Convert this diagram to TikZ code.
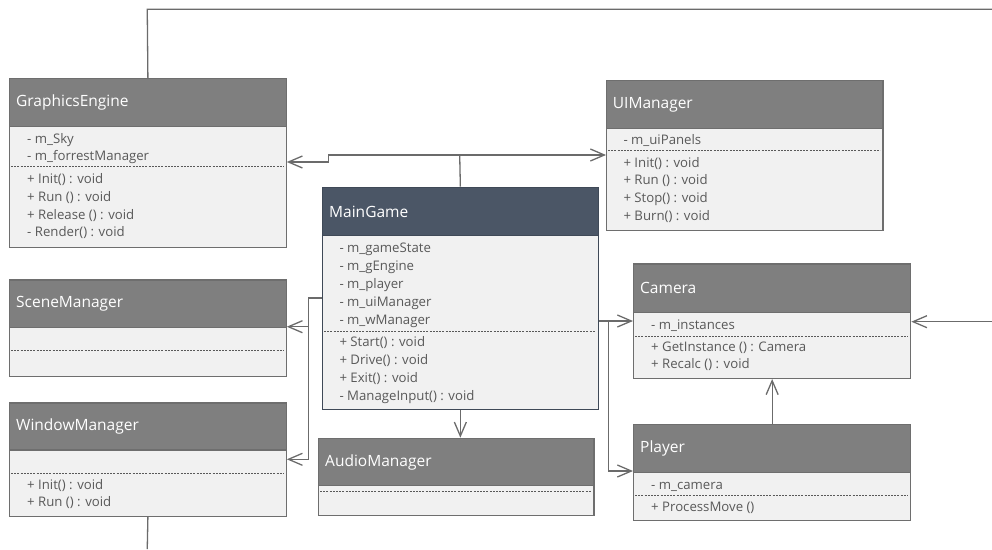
\documentclass[tikz,border=0pt]{standalone}
\usepackage{fontspec}
\setmainfont{Open Sans}
\usetikzlibrary{arrows.meta}
\definecolor{hdrgray}{HTML}{7F7F7F}
\definecolor{hdrline}{HTML}{6E6E6E}
\definecolor{mainhdr}{HTML}{4B5666}
\definecolor{mainline}{HTML}{3F4957}
\definecolor{bodyfill}{HTML}{F1F1F1}
\definecolor{txtgray}{HTML}{595959}
\definecolor{conncol}{HTML}{6B6B6B}
\tikzset{
  boxh/.style={draw=hdrline, fill=hdrgray, line width=1.3pt, anchor=north west, inner sep=0pt},
  boxb/.style={draw=hdrline, fill=bodyfill, line width=1.3pt, anchor=north west, inner sep=0pt},
  mboxh/.style={draw=mainline, fill=mainhdr, line width=1.3pt, anchor=north west, inner sep=0pt},
  mboxb/.style={draw=mainline, fill=bodyfill, line width=1.3pt, anchor=north west, inner sep=0pt},
  htext/.style={anchor=west, inner sep=0pt, text=white, font=\fontsize{15.5}{18}\selectfont},
  btext/.style={anchor=west, inner sep=0pt, text=txtgray, text height=10pt, text depth=2.9pt, font=\fontsize{13.2}{15}\selectfont},
  sep/.style={draw=txtgray, line width=0.8pt, dash pattern=on 2pt off 1.2pt},
  conn/.style={draw=conncol, line width=1.3pt},
  arr/.style={-{Straight Barb[length=14pt,width=12pt,line width=1.3pt]}}
}
\begin{document}
\begin{tikzpicture}[x=1pt,y=-1pt]
\useasboundingbox (0,0) rectangle (992,549);
% ---------- GraphicsEngine
\node[boxb, minimum width=276.5pt, minimum height=121pt] (geb) at (9,125.5) {};
\node[boxh, minimum width=276.5pt, minimum height=47.5pt] (geh) at (9,78) {};
\node[htext] (get) at ([xshift=7pt]geh.west) {GraphicsEngine};
\node[btext] (ge1) at (27,140) {- m\_Sky};
\node[btext] (ge2) at (27,157) {- m\_forrestManager};
\draw[sep] (11,166.5) -- (283.5,166.5);
\node[btext] (ge3) at (27,180) {+ Init() : void};
\node[btext] (ge4) at (27,198) {+ Run () : void};
\node[btext] (ge5) at (27,215.5) {+ Release () : void};
\node[btext] (ge6) at (27,233) {- Render() : void};
% ---------- SceneManager
\node[boxb, minimum width=276.5pt, minimum height=49pt] (smb) at (9,326.7) {};
\node[boxh, minimum width=276.5pt, minimum height=47.4pt] (smh) at (9,279.3) {};
\node[htext] (smt) at ([xshift=7pt]smh.west) {SceneManager};
\draw[sep] (11,350.7) -- (283.5,350.7);
% ---------- WindowManager
\node[boxb, minimum width=276.5pt, minimum height=66.4pt] (wmb) at (9,449.3) {};
\node[boxh, minimum width=276.5pt, minimum height=47pt] (wmh) at (9,402.3) {};
\node[htext] (wmt) at ([xshift=7pt]wmh.west) {WindowManager};
\draw[sep] (11,473.3) -- (283.5,473.3);
\node[btext] (wm1) at (27,486) {+ Init() : void};
\node[btext] (wm2) at (27,503.3) {+ Run () : void};
% ---------- MainGame
\node[mboxb, minimum width=276pt, minimum height=174pt] (mgb) at (321.7,235) {};
\node[mboxh, minimum width=276pt, minimum height=48.3pt] (mgh) at (321.7,186.7) {};
\node[htext] (mgt) at ([xshift=7.3pt]mgh.west) {MainGame};
\node[btext] (mg1) at (339.3,249) {- m\_gameState};
\node[btext] (mg2) at (339.3,267) {- m\_gEngine};
\node[btext] (mg3) at (339.3,285) {- m\_player};
\node[btext] (mg4) at (339.3,302.8) {- m\_uiManager};
\node[btext] (mg5) at (339.3,320.7) {- m\_wManager};
\draw[sep] (324,331) -- (595.5,331);
\node[btext] (mg6) at (339.3,343) {+ Start() : void};
\node[btext] (mg7) at (339.3,361) {+ Drive() : void};
\node[btext] (mg8) at (339.3,378.8) {+ Exit() : void};
\node[btext] (mg9) at (339.3,396.7) {- ManageInput() : void};
% ---------- AudioManager
\node[boxb, minimum width=275.6pt, minimum height=30pt] (amb) at (317.7,485) {};
\node[boxh, minimum width=275.6pt, minimum height=47.3pt] (amh) at (317.7,437.7) {};
\node[htext] (amt) at ([xshift=7.3pt]amh.west) {AudioManager};
\draw[sep] (320,491.5) -- (591,491.5);
% ---------- UIManager
\node[boxb, minimum width=276.3pt, minimum height=102.3pt] (uib) at (606,127.7) {};
\node[boxh, minimum width=276.3pt, minimum height=47.7pt] (uih) at (606,80) {};
\node[htext] (uit) at ([xshift=6.7pt]uih.west) {UIManager};
\node[btext] (ui1) at (623.3,141) {- m\_uiPanels};
\draw[sep] (608,150.7) -- (880,150.7);
\node[btext] (ui2) at (623.3,163.7) {+ Init() : void};
\node[btext] (ui3) at (623.3,181.3) {+ Run () : void};
\node[btext] (ui4) at (623.3,199) {+ Stop() : void};
\node[btext] (ui5) at (623.3,217) {+ Burn() : void};
% ---------- Camera
\node[boxb, minimum width=277pt, minimum height=66pt] (camb) at (633,311.7) {};
\node[boxh, minimum width=277pt, minimum height=48.4pt] (camh) at (633,263.3) {};
\node[htext] (camt) at ([xshift=7pt]camh.west) {Camera};
\node[btext] (ca1) at (651,326) {- m\_instances};
\draw[sep] (635,336) -- (908,336);
\node[btext] (ca2) at (651,347.7) {+ GetInstance () : Camera};
\node[btext] (ca3) at (651,365.3) {+ Recalc () : void};
% ---------- Player
\node[boxb, minimum width=277pt, minimum height=48.3pt] (plb) at (633,471.7) {};
\node[boxh, minimum width=277pt, minimum height=47.7pt] (plh) at (633,424) {};
\node[htext] (plt) at ([xshift=7pt]plh.west) {Player};
\node[btext] (pl1) at (651,486) {- m\_camera};
\draw[sep] (635,495.7) -- (908,495.7);
\node[btext] (pl2) at (651,507.7) {+ ProcessMove ()};
% ---------- connectors
\coordinate (t1) at (147.25,9.3);
\coordinate (t2) at (992,9.3);
\draw[conn] (geh.north) -- (t1) -- (t2);
\coordinate (j1) at (459.7,155);
\coordinate (k1) at (328.3,155);
\coordinate (k2) at (328.3,162);
\draw[conn] (mgh.north) -- (j1);
\draw[conn,arr] (j1) -- (k1) -- (k2) -- (k2 -| geb.east);
\draw[conn,arr] (j1) -- (j1 -| uib.west);
\coordinate (l1) at (308.3,298);
\coordinate (l2) at (308.3,459.3);
\coordinate (l3) at (308.3,326.7);
\draw[conn,arr] (l1 -| mgb.west) -- (l1) -- (l2) -- (l2 -| wmb.east);
\draw[conn,arr] (l3) -- (l3 -| smb.east);
\draw[conn,arr] (mgb.south) -- (mgb.south |- amh.north);
\coordinate (r1) at (608.3,321);
\coordinate (r2) at (608.3,471);
\draw[conn,arr] (r1 -| mgb.east) -- (r1 -| camb.west);
\draw[conn,arr] (r1) -- (r2) -- (r2 -| plh.west);
\draw[conn,arr] (plh.north) -- (camb.south);
\coordinate (fr) at (992,321.7);
\draw[conn,arr] (fr) -- (fr -| camb.east);
\coordinate (wb) at (147.25,549);
\draw[conn] (wmb.south) -- (wb);
\end{tikzpicture}
\end{document}
